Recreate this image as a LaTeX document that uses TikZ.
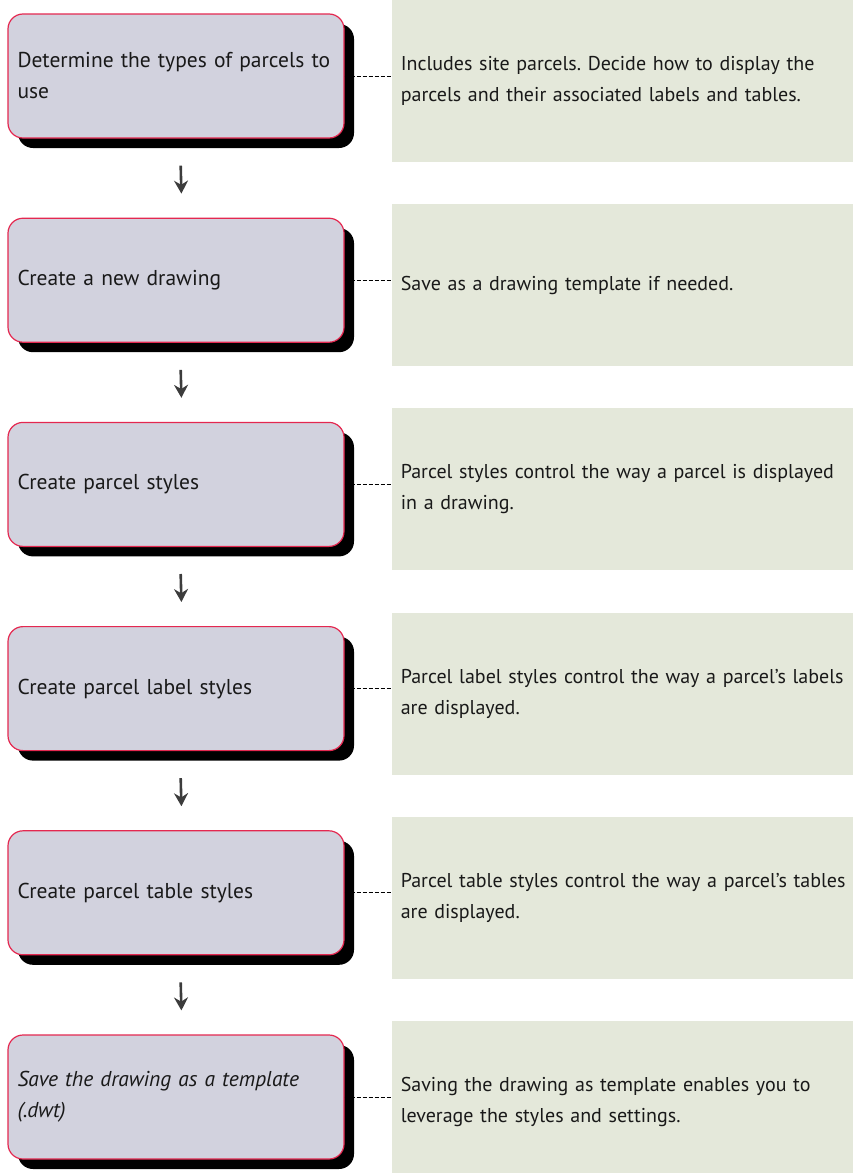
\documentclass[tikz,border=0pt]{standalone}
\usepackage{fontspec}
\setmainfont{PT Sans}
\usepackage{tikz}
\usetikzlibrary{positioning,arrows.meta,shadows}
\definecolor{stepfill}{RGB}{210,210,222}
\definecolor{stepline}{RGB}{228,40,80}
\definecolor{notefill}{RGB}{228,232,218}
\definecolor{flowgray}{RGB}{60,60,60}
\definecolor{textdark}{RGB}{25,25,25}
\tikzset{
  stepbox/.style={draw=stepline, line width=1.2pt, fill=stepfill, rounded corners=15pt,
    minimum width=336pt, minimum height=124pt, text width=317pt, inner xsep=9.5pt,
    align=left, text=textdark, font=\fontsize{21.5}{31}\selectfont\frenchspacing,
    drop shadow={shadow xshift=10pt, shadow yshift=-10pt, opacity=1, fill=black}},
  notebox/.style={fill=notefill, minimum height=162pt, text width=500pt, inner xsep=9pt,
    align=left, text=textdark, font=\fontsize{20}{31}\selectfont\frenchspacing, anchor=west},
  flow/.style={-{Stealth[length=13pt,width=14pt]}, flowgray, line width=2.6pt,
    shorten <=27pt, shorten >=24pt},
  tie/.style={dashed, dash pattern=on 4pt off 2pt, line width=0.9pt}
}
\begin{document}
\begin{tikzpicture}[x=1pt, y=-1pt]
  \useasboundingbox (0,0) rectangle (852,1173);
  % Schritte links
  \node[stepbox] (b1) at (176,76) {Determine the types of parcels to\\use};
  \node[stepbox, below=79pt of b1] (b2) {Create a new drawing};
  \node[stepbox, below=79pt of b2] (b3) {Create parcel styles};
  \node[stepbox, below=79pt of b3] (b4) {Create parcel label styles};
  \node[stepbox, below=79pt of b4] (b5) {Create parcel table styles};
  \node[stepbox, below=79pt of b5] (b6) {\itshape Save the drawing as a template\\(.dwt)};
  % Hinweise rechts
  \node[notebox, right=47pt of b1, yshift=-5pt] (p1) {Includes site parcels. Decide how to display the\\parcels and their associated labels and tables.};
  \node[notebox, right=47pt of b2, yshift=-5pt] (p2) {Save as a drawing template if needed.};
  \node[notebox, right=47pt of b3, yshift=-5pt] (p3) {Parcel styles control the way a parcel is displayed\\in a drawing.};
  \node[notebox, right=47pt of b4, yshift=-5pt] (p4) {Parcel label styles control the way a parcel's labels\\are displayed.};
  \node[notebox, right=47pt of b5, yshift=-5pt] (p5) {Parcel table styles control the way a parcel's tables\\are displayed.};
  \node[notebox, right=47pt of b6, yshift=-5pt] (p6) {Saving the drawing as template enables you to\\leverage the styles and settings.};
  % Pfeile
  \draw[flow] ([xshift=4pt]b1.south) -- ([xshift=6pt]b2.north);
  \draw[flow] ([xshift=4pt]b2.south) -- ([xshift=6pt]b3.north);
  \draw[flow] ([xshift=4pt]b3.south) -- ([xshift=6pt]b4.north);
  \draw[flow] ([xshift=4pt]b4.south) -- ([xshift=6pt]b5.north);
  \draw[flow] ([xshift=4pt]b5.south) -- ([xshift=6pt]b6.north);
  % gestrichelte Verbindungen
  \draw[tie] (b1.east) -- (b1.east -| p1.west);
  \draw[tie] (b2.east) -- (b2.east -| p2.west);
  \draw[tie] (b3.east) -- (b3.east -| p3.west);
  \draw[tie] (b4.east) -- (b4.east -| p4.west);
  \draw[tie] (b5.east) -- (b5.east -| p5.west);
  \draw[tie] (b6.east) -- (b6.east -| p6.west);
\end{tikzpicture}
\end{document}
